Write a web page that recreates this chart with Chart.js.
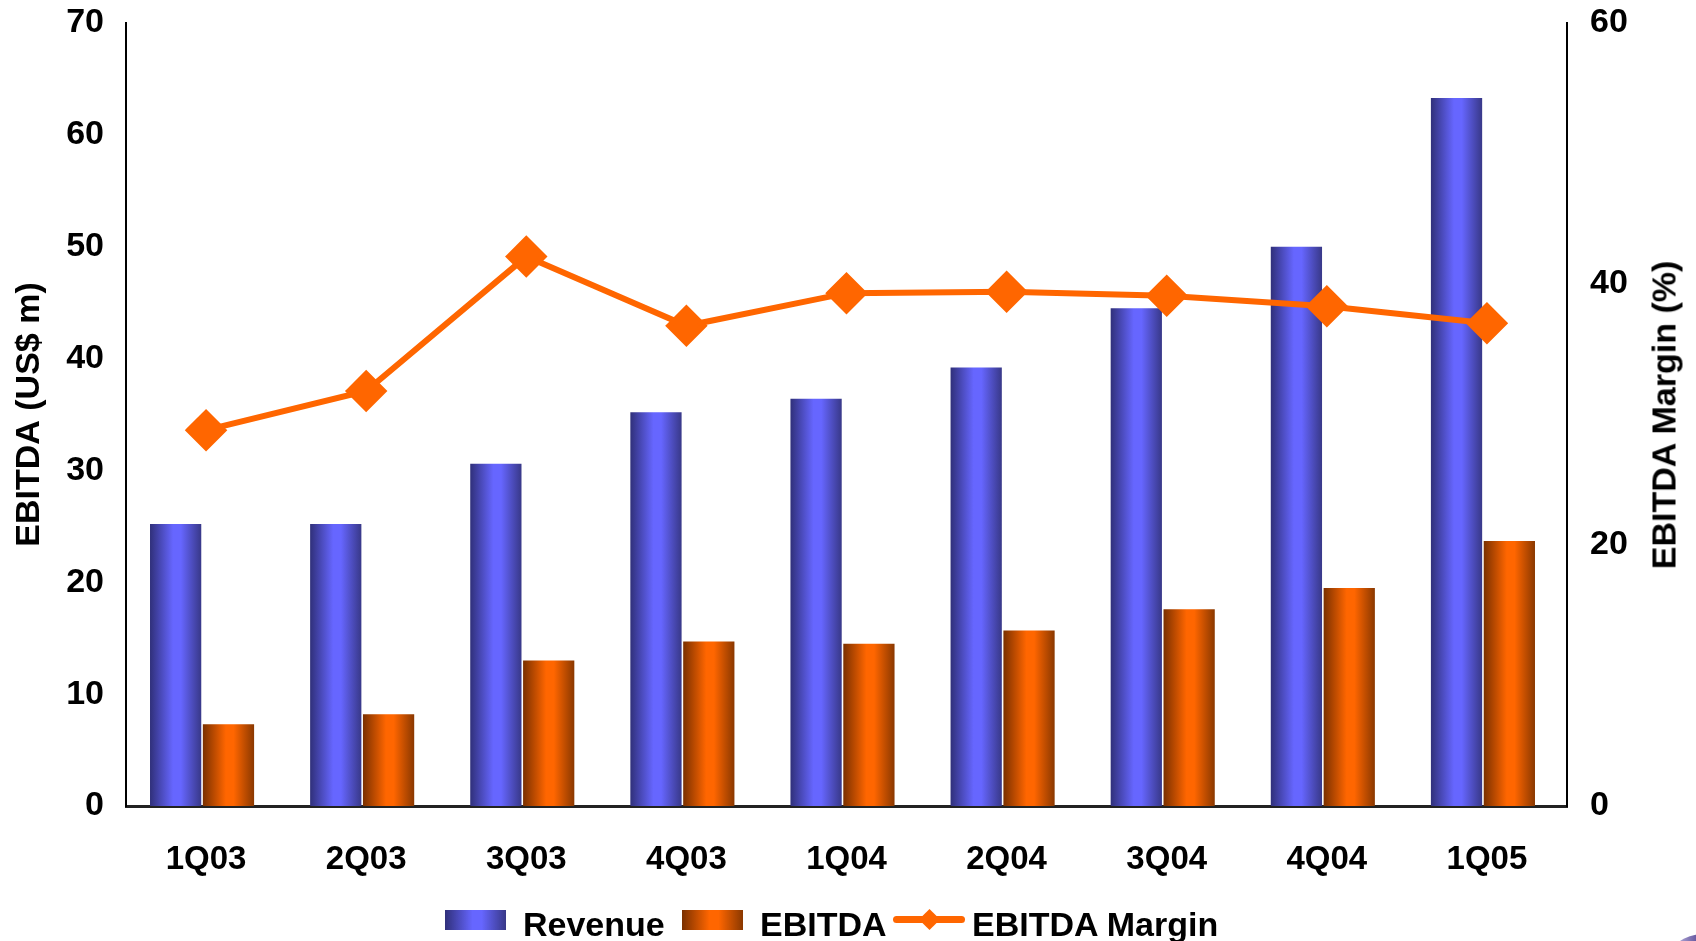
<!DOCTYPE html>
<html>
<head>
<meta charset="utf-8">
<title>EBITDA</title>
<script src="https://cdn.jsdelivr.net/npm/chart.js@4/dist/chart.umd.min.js"></script>
<style>
  body { margin:0; background:#fff; }
  #wrap { position:relative; width:1696px; height:941px; overflow:hidden; font-family:"Liberation Sans", Arial, sans-serif; }
  #c { position:absolute; left:0; top:0; }
  .lg { position:absolute; top:907px; font-weight:bold; font-size:34px; line-height:34px; color:#000; white-space:nowrap; }
  .box { position:absolute; top:910px; width:61px; height:20px; }
  #rtitle { position:absolute; left:1664px; top:415px; transform:translate(-50%,-50%) rotate(-90deg); font-weight:bold; font-size:34px; white-space:nowrap; color:#000; }
  #blob { position:absolute; left:1672px; top:933px; width:80px; height:40px; border-radius:50%; background:linear-gradient(to right,#c8c0e8,#3a2a80 45%); }
</style>
</head>
<body>
<div id="wrap">
  <canvas id="c" width="1696" height="941"></canvas>
  <div id="rtitle">EBITDA Margin (%)</div>
  <div class="box" style="left:445px;background:linear-gradient(to right,#30307a,#6666ff 45%,#6666ff 60%,#383888)"></div>
  <div class="lg" style="left:523px">Revenue</div>
  <div class="box" style="left:682px;background:linear-gradient(to right,#7a3000,#ff6600 45%,#ff6600 60%,#8a3800)"></div>
  <div class="lg" style="left:760px">EBITDA</div>
  <div style="position:absolute;left:893px;top:916px;width:72px;height:7px;border-radius:4px;background:#ff6600"></div>
  <div style="position:absolute;left:922px;top:912px;width:15px;height:15px;background:#ff6600;transform:rotate(45deg)"></div>
  <div class="lg" style="left:972px">EBITDA Margin</div>
  <div id="blob"></div>
</div>
<script>
// ---- data ----
const quarters = ['1Q03','2Q03','3Q03','4Q03','1Q04','2Q04','3Q04','4Q04','1Q05'];
const revenue = [25.2, 25.2, 30.6, 35.2, 36.4, 39.2, 44.5, 50.0, 63.3];
const ebitda = [7.3, 8.2, 13.0, 14.7, 14.5, 15.7, 17.6, 19.5, 23.7];
const margin = [28.8, 31.8, 42.1, 36.8, 39.3, 39.4, 39.1, 38.3, 37.0];

const CAT_PCT = 0.66, BAR_PCT = 0.97;
const revStops = ['#30307a', '#6666ff', '#6666ff', '#383888'];
const ebStops = ['#7a3000', '#ff6600', '#ff6600', '#8a3800'];

// gradient across each bar, like a cylinder
function barGrad(c, stops, d){
  const chart = c.chart;
  if(!chart.chartArea || c.dataIndex === undefined) return stops[1];
  const xs = chart.scales.x;
  const center = xs.getPixelForValue(c.dataIndex);
  const slot = xs.width / quarters.length * CAT_PCT / 2;
  const left = center - slot + d * slot + slot * (1 - BAR_PCT) / 2;
  const g = chart.ctx.createLinearGradient(left, 0, left + slot * BAR_PCT, 0);
  g.addColorStop(0, stops[0]);
  g.addColorStop(0.45, stops[1]);
  g.addColorStop(0.6, stops[2]);
  g.addColorStop(1, stops[3]);
  return g;
}

// bar groups sit a little left of the tick in the original
const nudgeBars = {
  id:'nudgeBars',
  beforeDatasetDraw(chart, args){
    if(args.meta.type !== 'bar') return;
    chart.ctx.save();
    chart.ctx.translate(-4, 0);
  },
  afterDatasetDraw(chart, args){
    if(args.meta.type === 'bar') chart.ctx.restore();
  }
};

const tickFont = { family:'"Liberation Sans", Arial', size:34, weight:'bold' };

new Chart(document.getElementById('c'), {
  data: {
    labels: quarters,
    datasets: [
      { type:'line', label:'EBITDA Margin', data:margin, yAxisID:'y1', order:0,
        borderColor:'#ff6600', borderWidth:6, backgroundColor:'#ff6600',
        pointStyle:'rectRot', pointRadius:17, pointHoverRadius:17, tension:0 },
      { type:'bar', label:'Revenue', data:revenue, yAxisID:'y', order:1,
        backgroundColor: c => barGrad(c, revStops, 0),
        categoryPercentage:CAT_PCT, barPercentage:BAR_PCT },
      { type:'bar', label:'EBITDA', data:ebitda, yAxisID:'y', order:1,
        backgroundColor: c => barGrad(c, ebStops, 1),
        categoryPercentage:CAT_PCT, barPercentage:BAR_PCT }
    ]
  },
  plugins:[nudgeBars],
  options: {
    responsive:false,
    animation:false,
    layout:{ padding:{ top:22 } },
    plugins:{ legend:{ display:false }, tooltip:{ enabled:false } },
    scales:{
      x:{
        grid:{ display:false },
        border:{ display:true, color:'#222', width:3 },
        ticks:{ color:'#000', font:{ family:'"Liberation Sans", Arial', size:33, weight:'bold' }, padding:26, maxRotation:0 },
        afterFit: s => { s.height = 135; }
      },
      y:{
        position:'left', min:0, max:70,
        grid:{ display:false },
        border:{ display:true, color:'#000', width:2 },
        ticks:{ stepSize:10, color:'#000', font:tickFont, padding:14 },
        title:{ display:true, text:'EBITDA (US$ m)', color:'#000', font:{ family:'"Liberation Sans", Arial', size:34, weight:'bold' }, padding:{ top:9, bottom:0 } },
        afterFit: s => { s.width = 126; s.paddingTop = 0; }
      },
      y1:{
        position:'right', min:0, max:60,
        grid:{ display:false },
        border:{ display:true, color:'#000', width:2 },
        ticks:{ stepSize:20, color:'#000', font:tickFont, padding:15 },
        afterFit: s => { s.width = 129; s.paddingTop = 0; }
      }
    }
  }
});
</script>
</body>
</html>
